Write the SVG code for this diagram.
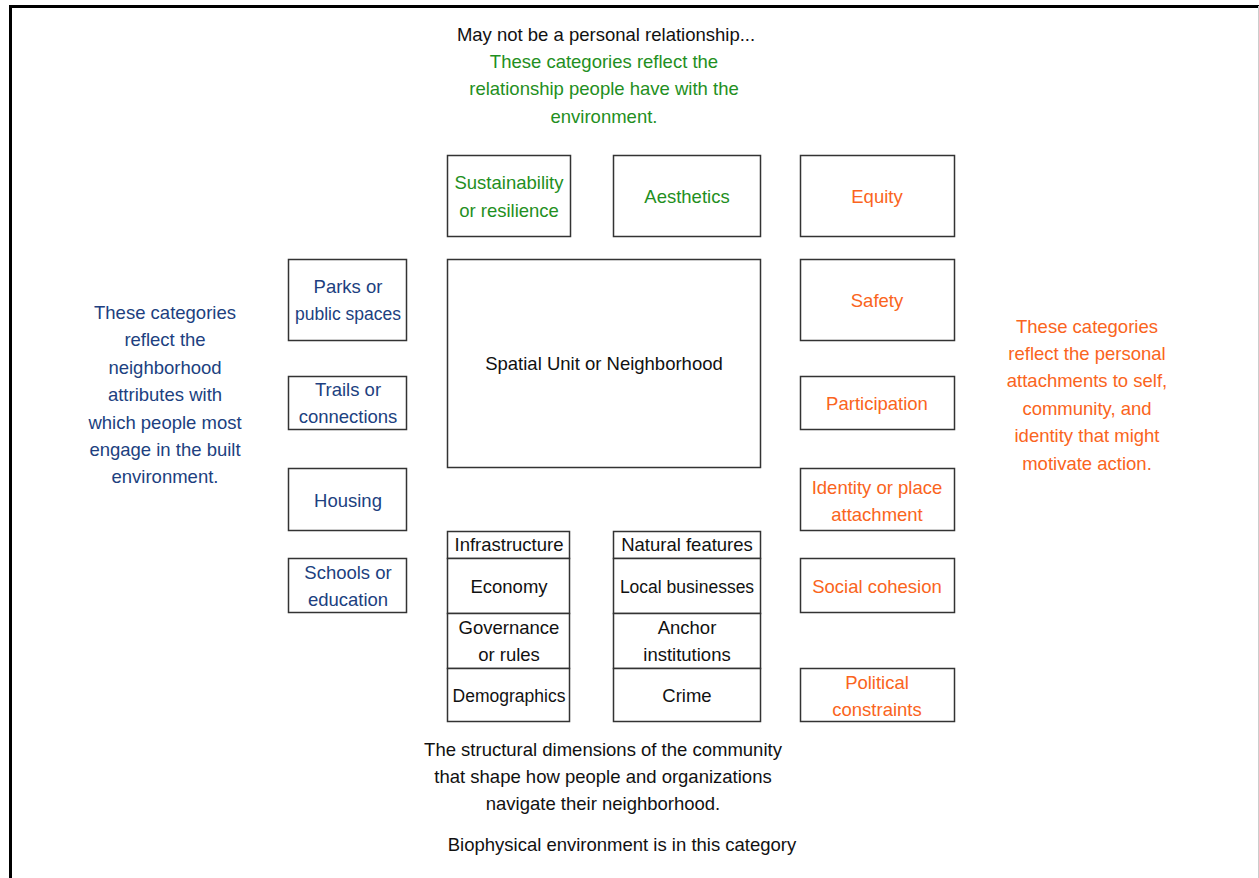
<svg xmlns="http://www.w3.org/2000/svg" width="1259" height="878" viewBox="0 0 1259 878">
<style>
  text { font-family: "Liberation Sans", Arial, sans-serif; font-size: 18.5px; text-anchor: middle; }
  .k { fill: #111111; }
  .g { fill: #1f8f22; }
  .b { fill: #203f80; }
  .o { fill: #fa6420; }
  .md { font-size: 17.5px; }
  .box { fill: #ffffff; stroke: #333333; stroke-width: 1.5; }
  .frame { fill: none; stroke: #000000; stroke-width: 3; }
</style>
<rect x="0" y="0" width="1259" height="878" fill="#ffffff"/>
<path class="frame" d="M10.5 880 V6.5 H1262"/>
<line x1="1258.5" y1="6" x2="1258.5" y2="878" stroke="#cccccc" stroke-width="1"/>

<g id="labels">
  <text class="k" x="606" y="41">May not be a personal relationship...</text>
  <text class="g" x="604" y="68">These categories reflect the</text>
  <text class="g" x="604" y="95">relationship people have with the</text>
  <text class="g" x="604" y="123">environment.</text>

  <text class="b" x="165" y="319">These categories</text>
  <text class="b" x="165" y="346">reflect the</text>
  <text class="b" x="165" y="374">neighborhood</text>
  <text class="b" x="165" y="401">attributes with</text>
  <text class="b" x="165" y="429">which people most</text>
  <text class="b" x="165" y="456">engage in the built</text>
  <text class="b" x="165" y="483">environment.</text>

  <text class="o" x="1087" y="333">These categories</text>
  <text class="o" x="1087" y="360">reflect the personal</text>
  <text class="o" x="1087" y="387">attachments to self,</text>
  <text class="o" x="1087" y="415">community, and</text>
  <text class="o" x="1087" y="442">identity that might</text>
  <text class="o" x="1087" y="470">motivate action.</text>

  <text class="k" x="603" y="756">The structural dimensions of the community</text>
  <text class="k" x="603" y="783">that shape how people and organizations</text>
  <text class="k" x="603" y="810">navigate their neighborhood.</text>
  <text class="k" x="622" y="851">Biophysical environment is in this category</text>
</g>

<g id="sustainability"><rect class="box" x="447.5" y="155.5" width="123" height="81"/>
  <text class="g" x="509" y="189">Sustainability</text><text class="g" x="509" y="217">or resilience</text></g>
<g id="aesthetics"><rect class="box" x="613.5" y="155.5" width="147" height="81"/>
  <text class="g" x="687" y="203">Aesthetics</text></g>
<g id="equity"><rect class="box" x="800.5" y="155.5" width="154" height="81"/>
  <text class="o" x="877" y="203">Equity</text></g>

<g id="parks"><rect class="box" x="288.5" y="259.5" width="118" height="81"/>
  <text class="b" x="348" y="293">Parks or</text><text class="b md" x="348" y="320">public spaces</text></g>
<g id="spatial-unit"><rect class="box" x="447.5" y="259.5" width="313" height="208"/>
  <text class="k" x="604" y="370">Spatial Unit or Neighborhood</text></g>
<g id="safety"><rect class="box" x="800.5" y="259.5" width="154" height="81"/>
  <text class="o" x="877" y="307">Safety</text></g>

<g id="trails"><rect class="box" x="288.5" y="376.5" width="118" height="53"/>
  <text class="b" x="348" y="396">Trails or</text><text class="b" x="348" y="423">connections</text></g>
<g id="participation"><rect class="box" x="800.5" y="376.5" width="154" height="53"/>
  <text class="o" x="877" y="410">Participation</text></g>

<g id="housing"><rect class="box" x="288.5" y="468.5" width="118" height="62"/>
  <text class="b" x="348" y="507">Housing</text></g>
<g id="identity"><rect class="box" x="800.5" y="468.5" width="154" height="62"/>
  <text class="o" x="877" y="494">Identity or place</text><text class="o" x="877" y="521">attachment</text></g>

<g id="schools"><rect class="box" x="288.5" y="558.5" width="118" height="54"/>
  <text class="b" x="348" y="579">Schools or</text><text class="b" x="348" y="606">education</text></g>
<g id="social-cohesion"><rect class="box" x="800.5" y="558.5" width="154" height="54"/>
  <text class="o" x="877" y="593">Social cohesion</text></g>

<g id="political"><rect class="box" x="800.5" y="668.5" width="154" height="53"/>
  <text class="o" x="877" y="689">Political</text><text class="o" x="877" y="716">constraints</text></g>

<g id="infrastructure"><rect class="box" x="447.5" y="531.5" width="122" height="27"/>
  <text class="k" x="509" y="551">Infrastructure</text></g>
<g id="economy"><rect class="box" x="447.5" y="558.5" width="122" height="55"/>
  <text class="k" x="509" y="593">Economy</text></g>
<g id="governance"><rect class="box" x="447.5" y="613.5" width="122" height="55"/>
  <text class="k" x="509" y="634">Governance</text><text class="k" x="509" y="661">or rules</text></g>
<g id="demographics"><rect class="box" x="447.5" y="668.5" width="122" height="53"/>
  <text class="k md" x="509" y="702">Demographics</text></g>

<g id="natural-features"><rect class="box" x="613.5" y="531.5" width="147" height="27"/>
  <text class="k" x="687" y="551">Natural features</text></g>
<g id="local-businesses"><rect class="box" x="613.5" y="558.5" width="147" height="55"/>
  <text class="k md" x="687" y="593">Local businesses</text></g>
<g id="anchor"><rect class="box" x="613.5" y="613.5" width="147" height="55"/>
  <text class="k" x="687" y="634">Anchor</text><text class="k" x="687" y="661">institutions</text></g>
<g id="crime"><rect class="box" x="613.5" y="668.5" width="147" height="53"/>
  <text class="k" x="687" y="702">Crime</text></g>

<g id="connectors"></g>
</svg>
